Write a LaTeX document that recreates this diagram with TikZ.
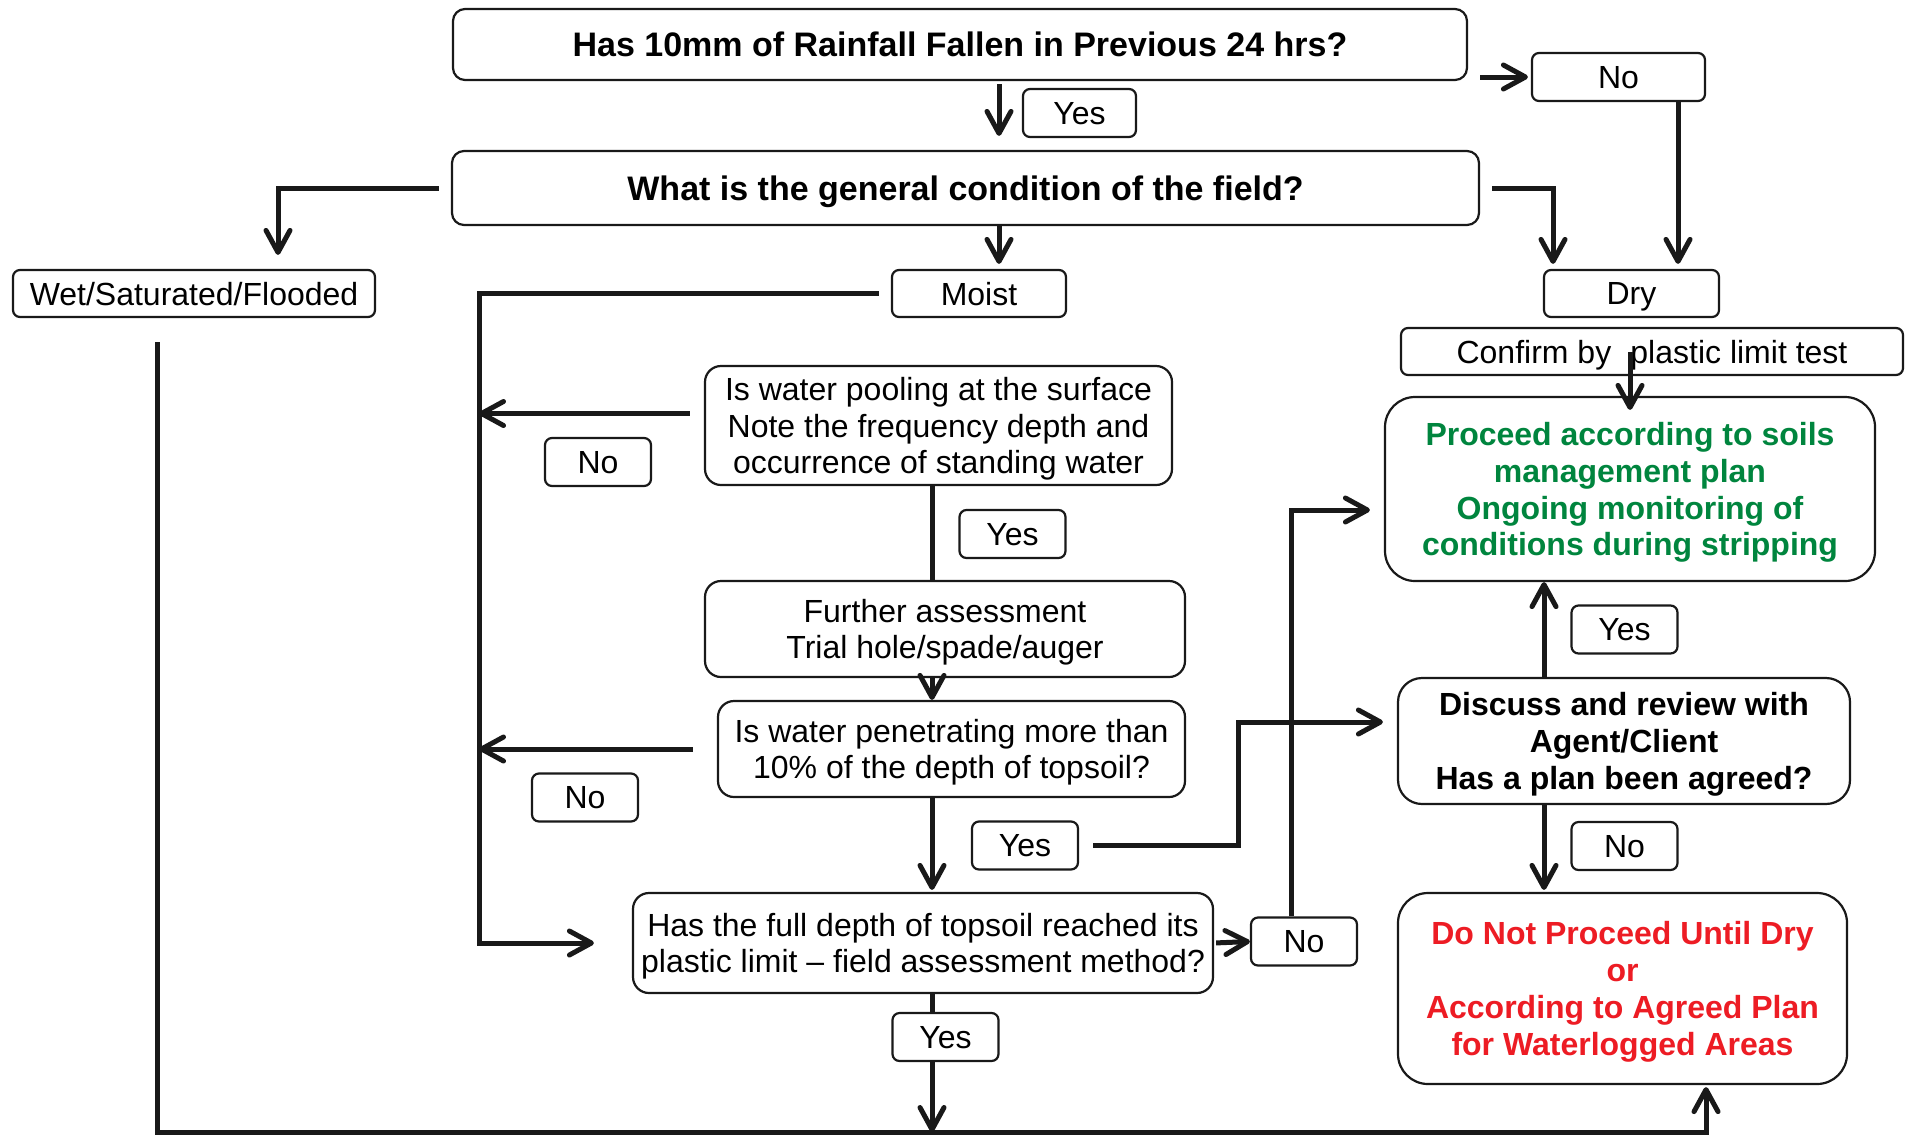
\documentclass[tikz,border=0pt]{standalone}
\usepackage{fontspec}
\setmainfont{Liberation Sans}
\usetikzlibrary{arrows.meta}
\definecolor{okgreen}{RGB}{0,133,62}
\definecolor{stopred}{RGB}{237,28,36}
\tikzset{
  box/.style={draw=black!90, line width=1.1pt, rounded corners=6pt, fill=white,
    align=center, inner sep=0pt, text depth=-1pt, font=\fontsize{16}{18.3}\selectfont},
  tag/.style={box, rounded corners=3.5pt, minimum width=53pt, minimum height=24pt},
  head/.style={box, font=\fontsize{17}{19}\selectfont\bfseries},
  big/.style={box, rounded corners=15pt, font=\fontsize{16}{18.4}\selectfont\bfseries},
  flow/.style={line width=2.5pt, draw=black!90},
  arr/.style={flow, -{Straight Barb[length=11pt,width=12pt,round]}},
}
\begin{document}
\begin{tikzpicture}[x=0.5pt,y=-0.5pt]
\useasboundingbox (0,0) rectangle (1905,1136);

\node[head, minimum width=507pt, minimum height=35.5pt] (rain) at (960,44.5) {Has 10mm of Rainfall Fallen in Previous 24 hrs?};
\node[tag, minimum width=86.5pt] (norain) at (1618.5,77) {No};
\node[tag, minimum width=56.5pt] (yesrain) at (1079.5,113) {Yes};
\node[head, minimum width=513.5pt, minimum height=37pt] (field) at (965.5,188) {What is the general condition of the field?};
\node[box, rounded corners=3.5pt, minimum width=181pt, minimum height=23.5pt] (wet) at (194,293.5) {Wet/Saturated/Flooded};
\node[box, rounded corners=3.5pt, minimum width=87pt, minimum height=23.5pt] (moist) at (979,293.5) {Moist};
\node[box, rounded corners=3.5pt, minimum width=87.5pt, minimum height=23.5pt] (dry) at (1631.5,293.5) {Dry};
\node[box, rounded corners=3.5pt, minimum width=251pt, minimum height=23.5pt] (confirm) at (1652,351.5) {Confirm by\hspace{0.6em}plastic limit test};
\node[big, text=okgreen, minimum width=245pt, minimum height=92pt] (proceed) at (1630,489) {Proceed according to soils\\management plan\\Ongoing monitoring of\\conditions during stripping};
\node[box, rounded corners=8pt, minimum width=233.5pt, minimum height=59.5pt] (pool) at (938.5,425.5) {Is water pooling at the surface\\Note the frequency depth and\\occurrence of standing water};
\node[tag] (nopool) at (598,462) {No};
\node[tag] (yespool) at (1012.5,534) {Yes};
\node[box, rounded corners=8pt, minimum width=240pt, minimum height=48pt] (further) at (945,629) {Further assessment\\Trial hole/spade/auger};
\node[box, rounded corners=8pt, minimum width=233.5pt, minimum height=48pt] (pen) at (951.5,749) {Is water penetrating more than\\10\% of the depth of topsoil?};
\node[tag] (nopen) at (585,797.5) {No};
\node[tag] (yespen) at (1025,845.5) {Yes};
\node[box, rounded corners=8pt, minimum width=290pt, minimum height=50pt] (full) at (923,943) {Has the full depth of topsoil reached its\\plastic limit -- field assessment method?};
\node[tag] (nofull) at (1304,941.5) {No};
\node[tag] (yesfull) at (945.5,1037) {Yes};
\node[big, rounded corners=12pt, minimum width=226pt, minimum height=63pt] (discuss) at (1624,741) {Discuss and review with\\Agent/Client\\Has a plan been agreed?};
\node[tag] (yesplan) at (1624.5,629.5) {Yes};
\node[tag] (noplan) at (1624.5,846) {No};
\node[big, text=stopred, minimum width=224.5pt, minimum height=95.5pt] (stop) at (1622.5,988.5) {Do Not Proceed Until Dry\\or\\According to Agreed Plan\\for Waterlogged Areas};

\coordinate (mid) at (999,0);
\coordinate (lane) at (932,0);
\coordinate (bar) at (479,0);
\coordinate (wetR) at (278,0);
\coordinate (wetL) at (157,0);
\coordinate (dryL) at (1553,0);
\coordinate (dryR) at (1678,0);
\coordinate (col) at (1544,0);
\coordinate (stopL) at (1706,0);
\coordinate (floor) at (0,1132);
\coordinate (jogA) at (1238,722);
\coordinate (jogB) at (1291,510);

\draw[arr, shorten <=1.5pt, shorten >=7pt] (rain.south -| mid) -- (field.north -| mid);
\draw[arr, shorten <=6pt, shorten >=1.5pt] (rain.east |- norain) -- (norain.west);
\draw[arr, shorten >=2.5pt] (norain.south -| dryR) -- (dry.north -| dryR);
\draw[arr, shorten <=6pt, shorten >=2.5pt] (field.east) -| (dry.north -| dryL);
\draw[arr, shorten <=6pt, shorten >=7pt] (field.west) -| (wet.north -| wetR);
\draw[arr, shorten >=2.5pt] (field.south -| mid) -- (moist.north -| mid);
\draw[arr, shorten <=6pt, shorten >=19pt] (moist.west) -| (full.west -| bar) -- (full.west);
\draw[arr, shorten <=7pt] ([yshift=6pt]pool.west) -- ([yshift=6pt]pool.west -| bar);
\draw[arr, shorten <=12pt] (pen.west) -- (pen.west -| bar);
\draw[flow] (pool.south -| lane) -- (further.north -| lane);
\draw[arr] (further.south -| lane) -- (pen.north -| lane);
\draw[arr, shorten >=1pt] (pen.south -| lane) -- (full.north -| lane);
\draw[flow] (full.south -| lane) -- (yesfull.north -| lane);
\draw[arr] (yesfull.south -| lane) -- (lane |- floor);
\draw[arr, shorten <=12pt, shorten >=1pt] (wet.south -| wetL) -- (wetL |- floor) -- (stopL |- floor) -- (stop.south -| stopL);
\draw[arr, shorten <=7pt, shorten >=7pt] (yespen.east) -| (jogA) -- (jogA -| discuss.west);
\draw[arr, shorten <=1pt] (full.east) -- (nofull.west);
\draw[arr, shorten >=7pt] (nofull.north -| jogB) -- (jogB) -- (jogB -| proceed.west);
\draw[arr] (discuss.north -| col) -- (proceed.south -| col);
\draw[arr, shorten >=1pt] (discuss.south -| col) -- (stop.north -| col);
\draw[arr] (proceed.north |- confirm.center) -- ([yshift=-7pt]proceed.north);
\end{tikzpicture}
\end{document}
